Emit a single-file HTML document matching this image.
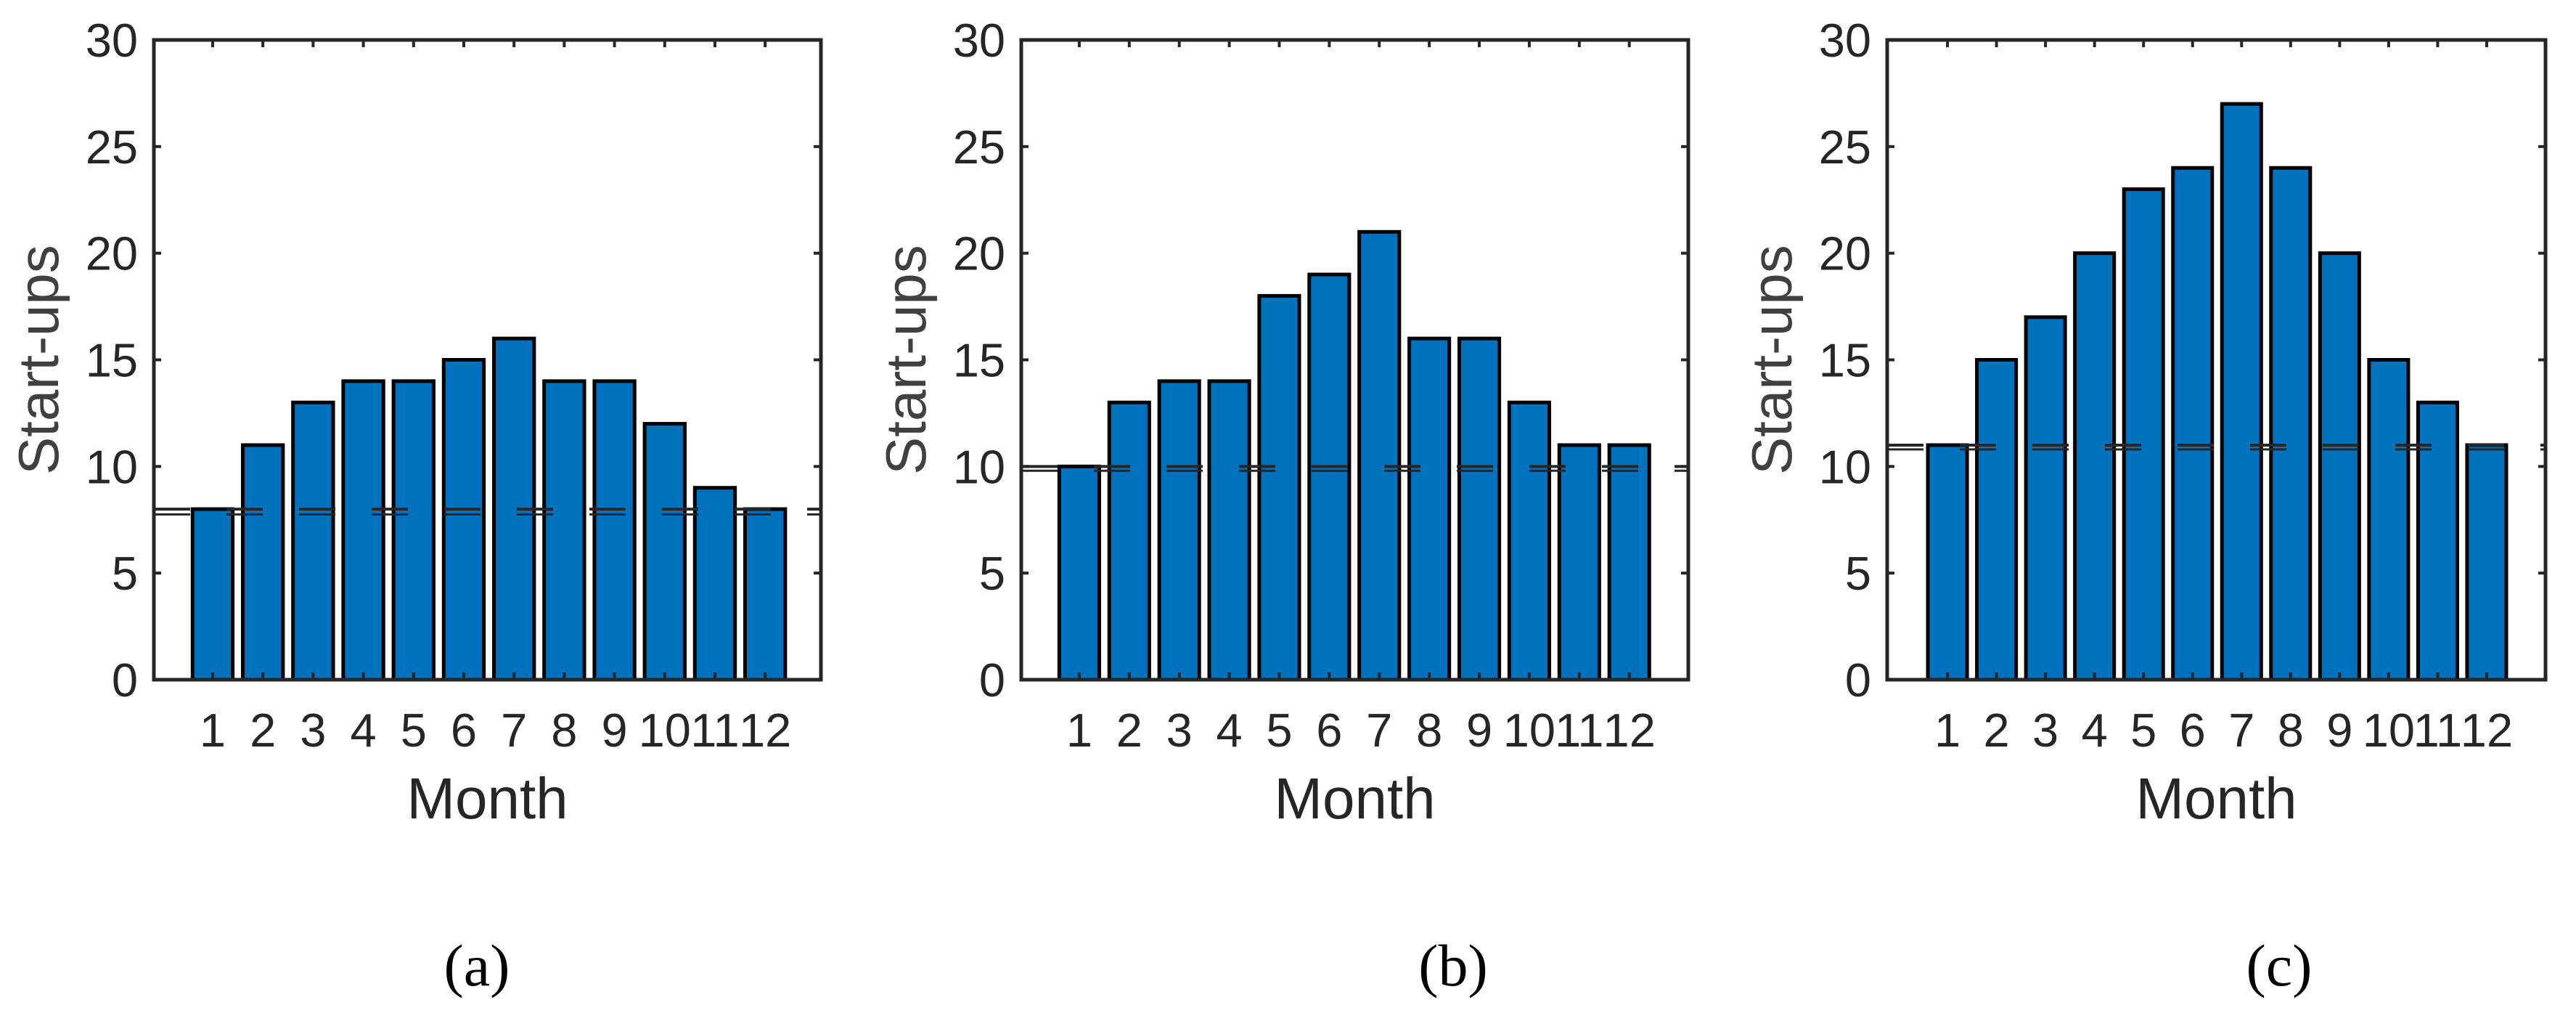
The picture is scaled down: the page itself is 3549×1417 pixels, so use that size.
<!DOCTYPE html>
<html><head><meta charset="utf-8"><style>
html,body{margin:0;padding:0;background:#fff;}
svg{display:block;}
text{font-family:"Liberation Sans",sans-serif;fill:#262626;}
</style></head><body>
<svg id="fig" width="3549" height="1417" viewBox="0 0 3549 1417" xmlns="http://www.w3.org/2000/svg"></svg>
<script>
const months = [1,2,3,4,5,6,7,8,9,10,11,12];
const valuesA = [8,11,13,14,14,15,16,14,14,12,9,8];
const valuesB = [10,13,14,14,18,19,21,16,16,13,11,11];
const valuesC = [11,15,17,20,23,24,27,24,20,15,13,11];
const refA = [8,7.75];
const refB = [10,9.8];
const refC = [11,10.8];
const yTicks = [0,5,10,15,20,25,30];
const captions = ["(a)","(b)","(c)"];

const NS = "http://www.w3.org/2000/svg";
const svg = document.getElementById('fig');
function mk(tag, attrs, parent){
  const e = document.createElementNS(NS, tag);
  for (const k in attrs) e.setAttribute(k, attrs[k]);
  (parent||svg).appendChild(e);
  return e;
}
const panels = [
  {key:'a', L:212, R:1131, vals:valuesA, ref:refA, x0:-0.17, x1:13.11, cap:657},
  {key:'b', L:1407, R:2326, vals:valuesB, ref:refB, x0:-0.16, x1:13.18, cap:2002},
  {key:'c', L:2600, R:3507, vals:valuesC, ref:refC, x0:-0.23, x1:13.2, cap:3140}
];
const T = 55, B = 936;
panels.forEach((p, pi) => {
  const g = mk('g', {});
  
  
  const xs = v => p.L + (v - p.x0) / (p.x1 - p.x0) * (p.R - p.L);
  const ys = v => B - v / 30 * (B - T);
  const bw = (xs(1.8) - xs(1));
  months.forEach((m, i) => {
    const r = mk('rect', {x: xs(m) - bw/2, y: ys(p.vals[i]), width: bw, height: ys(0) - ys(p.vals[i]), fill:'#0072bd', stroke:'#000', 'stroke-width':5}, g);
    
    
  });
  p.ref.forEach((rv, ri) => {
    const l = mk('line', {x1:p.L, x2:p.R, y1:ys(rv), y2:ys(rv), stroke:'#262626', 'stroke-width': ri===0?4:3, 'stroke-dasharray':'50 50'}, g);
    
    
  });
  const box = mk('rect', {x:p.L, y:T, width:p.R-p.L, height:B-T, fill:'none', stroke:'#262626', 'stroke-width':5}, g);
  
  
  yTicks.forEach(t => {
    mk('line', {x1:p.L, x2:p.L+10, y1:ys(t), y2:ys(t), stroke:'#262626', 'stroke-width':4}, g);
    mk('line', {x1:p.R, x2:p.R-10, y1:ys(t), y2:ys(t), stroke:'#262626', 'stroke-width':4}, g);
    const tx = mk('text', {x:p.L-22, y:ys(t)+23, 'font-size':65, 'text-anchor':'end'}, g);
    tx.textContent = t;
    
    
  });
  months.forEach(m => {
    mk('line', {x1:xs(m), x2:xs(m), y1:B, y2:B-10, stroke:'#262626', 'stroke-width':4}, g);
    mk('line', {x1:xs(m), x2:xs(m), y1:T, y2:T+10, stroke:'#262626', 'stroke-width':4}, g);
    const tx = mk('text', {x:xs(m), y:1028, 'font-size':65, 'text-anchor':'middle'}, g);
    tx.textContent = m;
    
    
  });
  const xl = mk('text', {x:(p.L+p.R)/2, y:1127, 'font-size':80, 'text-anchor':'middle'}, g);
  xl.textContent = 'Month';
  
  
  const yl = mk('text', {x:0, y:0, 'font-size':78, 'text-anchor':'middle', transform:'translate(' + (p.L-132) + ',' + ((T+B)/2) + ') rotate(-90)'}, g);
  yl.style.fill = '#404040';
  yl.textContent = 'Start-ups';
  
  
  const cp = mk('text', {x:p.cap, y:1357, 'font-size':82, 'text-anchor':'middle'}, g);
  cp.style.fontFamily = '"Liberation Serif",serif';
  cp.style.fill = '#000';
  cp.textContent = captions[pi];
  
  
});
</script>
</body></html>
